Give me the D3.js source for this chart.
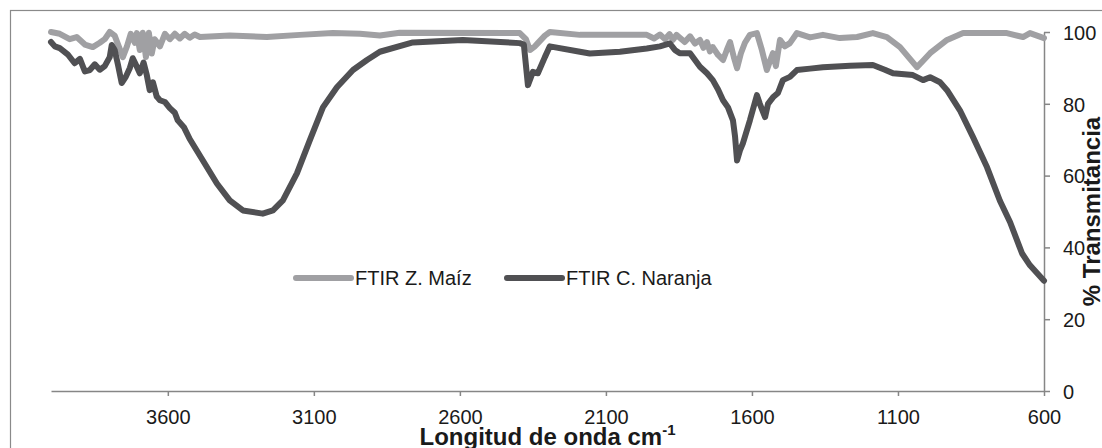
<!DOCTYPE html>
<html lang="es">
	<head>
		<meta charset="utf-8">
		<title>FTIR Z. Maíz / C. Naranja</title>
		<style type="text/css">

			body {
				margin: 0;
				background-color: white;
				font-family: "Liberation Sans", Arial, Helvetica, sans-serif;
			}

			svg {
				display: block;
				background-color: white;
			}

			path.line {
				fill: none;
				stroke-width: 6px;
				stroke-linejoin: round;
				stroke-linecap: round;
			}

			.axis path,
			.axis line {
				fill: none;
				stroke: #868686;
				stroke-width: 1.5px;
			}

			.axis text {
				font-family: "Liberation Sans", Arial, sans-serif;
				font-size: 20px;
				fill: #1a1a1a;
			}

			text.legend {
				font-size: 20px;
				fill: #1a1a1a;
			}

			text.title {
				font-weight: bold;
				fill: #1a1a1a;
			}

		</style>
	</head>
	<body>

		<script type="text/javascript" src="https://cdnjs.cloudflare.com/ajax/libs/d3/7.8.5/d3.min.js"></script>
		<script type="text/javascript">

			// values (wavenumber cm-1, % transmittance)
			var maizWn = [4000, 3970, 3936, 3912, 3884, 3857, 3833, 3816, 3799, 3782, 3768, 3754, 3740, 3727,
				3713, 3706, 3696, 3686, 3675, 3665, 3655, 3645, 3627, 3610, 3593, 3576, 3559, 3542, 3525, 3508,
				3490, 3388, 3261, 3148, 3035, 2942, 2874, 2806, 2395, 2374, 2360, 2343, 2333, 2309, 2292, 2189,
				2076, 1960, 1935, 1915, 1898, 1882, 1871, 1858, 1847, 1830, 1812, 1795, 1778, 1766, 1754, 1744,
				1734, 1716, 1699, 1686, 1675, 1662, 1651, 1638, 1624, 1607, 1583, 1566, 1549, 1538, 1528, 1518,
				1504, 1487, 1470, 1446, 1401, 1357, 1299, 1240, 1186, 1138, 1093, 1059, 1035, 1014, 990, 932,
				877, 727, 672, 648, 600];
			var maizT = [100, 99.5, 98, 98.6, 96.5, 95.8, 97, 98, 100, 99, 96, 93, 96, 99.5,
				97, 99.7, 95, 99.8, 93, 99.8, 94, 98, 96, 99.5, 98, 99.5, 98.2, 99.5, 98.4, 99.3,
				98.6, 99, 98.6, 99.2, 99.7, 99.5, 99, 99.8, 99.7, 98, 95, 96, 96.9, 99, 100, 99.2,
				99.2, 99.2, 98.2, 99.3, 98, 99.4, 97.8, 99.2, 98.4, 97.2, 98.8, 96.8, 97.8, 95.6, 97.2, 94.6,
				95.8, 93.6, 92.2, 95, 97.2, 93, 89.9, 94, 97, 99.2, 99.7, 95, 89.4, 92, 94.1, 90.5,
				97.8, 96, 96.9, 99.7, 98.5, 99.2, 98.3, 98.6, 99.7, 98.6, 95.8, 92.5, 90.2, 92, 94.1, 97.8,
				99.7, 99.7, 98.6, 99.7, 98.3];

			var naranjaWn = [4000, 3987, 3970, 3943, 3919, 3901, 3884, 3867, 3850, 3833, 3816, 3799, 3792, 3782,
				3771, 3758, 3744, 3730, 3720, 3710, 3696, 3683, 3672, 3662, 3651, 3638, 3627, 3610, 3593, 3576,
				3566, 3545, 3525, 3480, 3432, 3388, 3343, 3275, 3240, 3206, 3158, 3114, 3069, 3021, 2966, 2918,
				2874, 2761, 2590, 2395, 2381, 2367, 2350, 2333, 2309, 2292, 2189, 2155, 2052, 1960, 1915, 1881,
				1864, 1847, 1812, 1778, 1754, 1734, 1716, 1699, 1682, 1665, 1658, 1651, 1641, 1631, 1607, 1583,
				1573, 1555, 1545, 1528, 1511, 1494, 1470, 1446, 1401, 1357, 1264, 1186, 1145, 1117, 1049, 1014,
				990, 956, 932, 888, 843, 795, 751, 716, 675, 648, 600];
			var naranjaT = [97.2, 96, 95.5, 93.8, 91.3, 92.5, 89, 89.4, 91, 89.5, 90.5, 93, 96.4, 95,
				91, 85.8, 87.5, 90, 92.7, 91, 88.5, 91.5, 88, 83.8, 86, 82, 81, 80.5, 78.8, 77.5,
				75.4, 73.5, 70.2, 64.2, 57.8, 53.1, 50.3, 49.4, 50.3, 53.1, 60.6, 69.8, 79, 84.6, 89.4, 92.2,
				94.5, 97.1, 97.8, 96.9, 96.5, 85.2, 88.9, 88.5, 93, 96, 94.5, 94, 94.5, 95.4, 96, 96.8,
				95, 94.1, 94.1, 90.3, 88.5, 86.6, 84, 81, 79, 75.4, 71, 64.2, 67, 69, 75.4, 82.4,
				80, 76.3, 80, 81.8, 83, 86.6, 87.5, 89.4, 89.8, 90.2, 90.6, 90.8, 89.5, 88.5, 88, 86.6,
				87.4, 86, 83.8, 78.2, 70.7, 62.3, 53, 47, 38.3, 35, 30.7];

			var seriesNames = ["FTIR Z. Maíz", "FTIR C. Naranja"];
			var seriesColors = ["#a0a0a3", "#505053"];
			var xTicks = [3600, 3100, 2600, 2100, 1600, 1100, 600];
			var yTicks = [0, 20, 40, 60, 80, 100];

			var fullwidth = 1102;
			var fullheight = 448;
			var margin = { top: 32, right: 58, bottom: 57, left: 51 };

			var width = fullwidth - margin.left - margin.right;
			var height = fullheight - margin.top - margin.bottom;

			var xScale = d3.scaleLinear()
								.domain([4000, 600])
								.range([0, width]);

			var yScale = d3.scaleLinear()
								.domain([0, 100])
								.range([height, 0]);

			var xAxis = d3.axisBottom(xScale)
							.tickValues(xTicks)
							.tickFormat(d3.format("d"))
							.tickSize(5)
							.tickSizeOuter(0)
							.tickPadding(14);

			var yAxis = d3.axisRight(yScale)
							.tickValues(yTicks)
							.tickFormat(d3.format("d"))
							.tickSize(6)
							.tickSizeOuter(0)
							.tickPadding(13);

			var line = d3.line()
				.x(function(d) { return xScale(d.wn); })
				.y(function(d) { return yScale(d.t); });

			var root = d3.select("body")
						.append("svg")
						.attr("width", fullwidth)
						.attr("height", fullheight);

			// chart frame (runs off the picture at right and bottom)
			root.append("rect")
				.attr("x", 10.5)
				.attr("y", 10.5)
				.attr("width", 1200)
				.attr("height", 600)
				.attr("fill", "none")
				.attr("stroke", "#8a8a8a")
				.attr("stroke-width", 1.2);

			var svg = root.append("g")
						.attr("transform", "translate(" + margin.left + "," + margin.top + ")");

			var dataset = [
				{ name: seriesNames[0], color: seriesColors[0],
					values: maizWn.map(function(w, i) { return { wn: w, t: maizT[i] }; }) },
				{ name: seriesNames[1], color: seriesColors[1],
					values: naranjaWn.map(function(w, i) { return { wn: w, t: naranjaT[i] }; }) }
			];

			svg.append("g")
				.attr("class", "x axis")
				.attr("transform", "translate(0," + height + ")")
				.call(xAxis);

			svg.append("g")
				.attr("class", "y axis")
				.attr("transform", "translate(" + width + ",0)")
				.call(yAxis)
				.selectAll("text")
				.attr("dy", "0.36em");

			svg.selectAll(".axis text")
				.attr("font-size", null)
				.attr("font-family", null);

			svg.selectAll("path.line")
				.data(dataset)
				.enter()
				.append("path")
				.attr("class", "line")
				.attr("stroke", function(d) { return d.color; })
				.attr("d", function(d) { return line(d.values); });

			// legend
			var legendX = [296, 507];
			var legend = root.selectAll("g.legend")
				.data(dataset)
				.enter()
				.append("g")
				.attr("class", "legend")
				.attr("transform", function(d, i) { return "translate(" + legendX[i] + ",278)"; });

			legend.append("line")
				.attr("x1", 0)
				.attr("x2", 55)
				.attr("y1", 0)
				.attr("y2", 0)
				.attr("stroke", function(d) { return d.color; })
				.attr("stroke-width", 6)
				.attr("stroke-linecap", "round");

			legend.append("text")
				.attr("class", "legend")
				.attr("x", 59)
				.attr("y", 7)
				.text(function(d) { return d.name; });

			// axis titles
			var xTitle = root.append("text")
				.attr("class", "title")
				.attr("x", margin.left + width / 2)
				.attr("y", 445)
				.attr("text-anchor", "middle")
				.attr("font-size", "24px");
			xTitle.append("tspan").text("Longitud de onda cm");
			xTitle.append("tspan")
				.attr("font-size", "15px")
				.attr("dy", "-10")
				.text("-1");

			root.append("text")
				.attr("class", "title")
				.attr("transform", "translate(1100," + (margin.top + height / 2) + ") rotate(-90)")
				.attr("text-anchor", "middle")
				.attr("font-size", "24px")
				.text("% Transmitancia");

		</script>

	</body>
</html>
